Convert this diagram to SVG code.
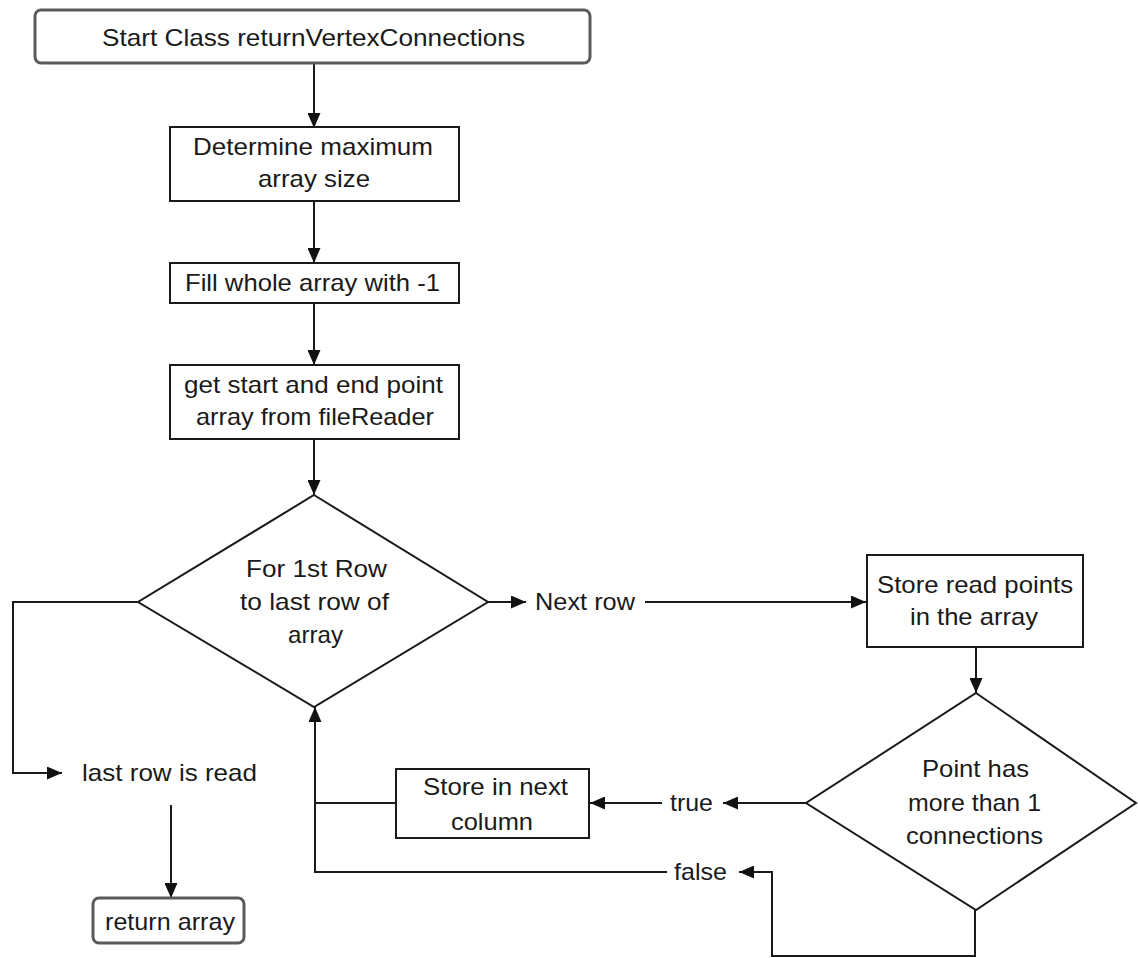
<svg xmlns="http://www.w3.org/2000/svg" width="1138" height="958" viewBox="0 0 1138 958">
<defs>
<style>
.box{fill:#fff;stroke:#1a1a1a;stroke-width:2}
.term{fill:#fff;stroke:#5a5a5a;stroke-width:3}
.t{font-family:"Liberation Sans",Arial,sans-serif;font-size:24px;fill:#1a1a1a}
.c{fill:none;stroke:#1a1a1a;stroke-width:2}
</style>
<marker id="ah" markerUnits="userSpaceOnUse" markerWidth="15" markerHeight="13" refX="15" refY="6.5" orient="auto">
<path d="M0,0 L15,6.5 L0,13 z" fill="#111"/>
</marker>
</defs>
<rect width="1138" height="958" fill="#fff"/>

<g id="connectors">
<path class="c" d="M314,63 V128" marker-end="url(#ah)"/>
<path class="c" d="M314,201 V263" marker-end="url(#ah)"/>
<path class="c" d="M314,303 V365" marker-end="url(#ah)"/>
<path class="c" d="M314,439 V495" marker-end="url(#ah)"/>
<path class="c" d="M488,602 H526" marker-end="url(#ah)"/>
<text class="t" x="535" y="610" textLength="100" lengthAdjust="spacingAndGlyphs">Next row</text>
<path class="c" d="M645,602 H866" marker-end="url(#ah)"/>
<path class="c" d="M976,647 V693" marker-end="url(#ah)"/>
<path class="c" d="M806,803 H723" marker-end="url(#ah)"/>
<text class="t" x="670" y="811" textLength="43" lengthAdjust="spacingAndGlyphs">true</text>
<path class="c" d="M662,803 H590" marker-end="url(#ah)"/>
<path class="c" d="M396,803 H315"/>
<path class="c" d="M975,910 V956 H772 V872 H739" marker-end="url(#ah)"/>
<text class="t" x="674" y="880" textLength="53" lengthAdjust="spacingAndGlyphs">false</text>
<path class="c" d="M667,872 H315 V707" marker-end="url(#ah)"/>
<path class="c" d="M138,602 H13 V773 H62" marker-end="url(#ah)"/>
<text class="t" x="82" y="781" textLength="175" lengthAdjust="spacingAndGlyphs">last row is read</text>
<path class="c" d="M171,805 V898" marker-end="url(#ah)"/>
</g>

<g id="start">
<rect class="term" x="35" y="10" width="555" height="53" rx="6"/>
<text class="t" x="102" y="46" textLength="423" lengthAdjust="spacingAndGlyphs">Start Class returnVertexConnections</text>
</g>

<g id="determine">
<rect class="box" x="170" y="127" width="289" height="74"/>
<text class="t" x="193" y="155" textLength="240" lengthAdjust="spacingAndGlyphs">Determine maximum</text>
<text class="t" x="258" y="187" textLength="112" lengthAdjust="spacingAndGlyphs">array size</text>
</g>

<g id="fill">
<rect class="box" x="170" y="263" width="289" height="40"/>
<text class="t" x="185" y="291" textLength="255" lengthAdjust="spacingAndGlyphs">Fill whole array with -1</text>
</g>

<g id="getpoints">
<rect class="box" x="170" y="365" width="289" height="74"/>
<text class="t" x="184" y="393" textLength="259" lengthAdjust="spacingAndGlyphs">get start and end point</text>
<text class="t" x="196" y="425" textLength="238" lengthAdjust="spacingAndGlyphs">array from fileReader</text>
</g>

<g id="loop">
<polygon class="box" points="314,495 488,602 314,707 138,602"/>
<text class="t" x="246" y="577" textLength="141" lengthAdjust="spacingAndGlyphs">For 1st Row</text>
<text class="t" x="240" y="610" textLength="149" lengthAdjust="spacingAndGlyphs">to last row of</text>
<text class="t" x="288" y="643" textLength="55" lengthAdjust="spacingAndGlyphs">array</text>
</g>

<g id="storeread">
<rect class="box" x="867" y="555" width="216" height="92"/>
<text class="t" x="877" y="593" textLength="196" lengthAdjust="spacingAndGlyphs">Store read points</text>
<text class="t" x="910" y="625" textLength="128" lengthAdjust="spacingAndGlyphs">in the array</text>
</g>

<g id="check">
<polygon class="box" points="976,693 1136,803 976,910 806,803"/>
<text class="t" x="922" y="777" textLength="107" lengthAdjust="spacingAndGlyphs">Point has</text>
<text class="t" x="908" y="811" textLength="133" lengthAdjust="spacingAndGlyphs">more than 1</text>
<text class="t" x="906" y="844" textLength="137" lengthAdjust="spacingAndGlyphs">connections</text>
</g>

<g id="storenext">
<rect class="box" x="396" y="769" width="193" height="69"/>
<text class="t" x="423" y="795" textLength="145" lengthAdjust="spacingAndGlyphs">Store in next</text>
<text class="t" x="451" y="830" textLength="82" lengthAdjust="spacingAndGlyphs">column</text>
</g>

<g id="return">
<rect class="term" x="93" y="898" width="151" height="45" rx="6"/>
<text class="t" x="105" y="930" textLength="130" lengthAdjust="spacingAndGlyphs">return array</text>
</g>
</svg>
